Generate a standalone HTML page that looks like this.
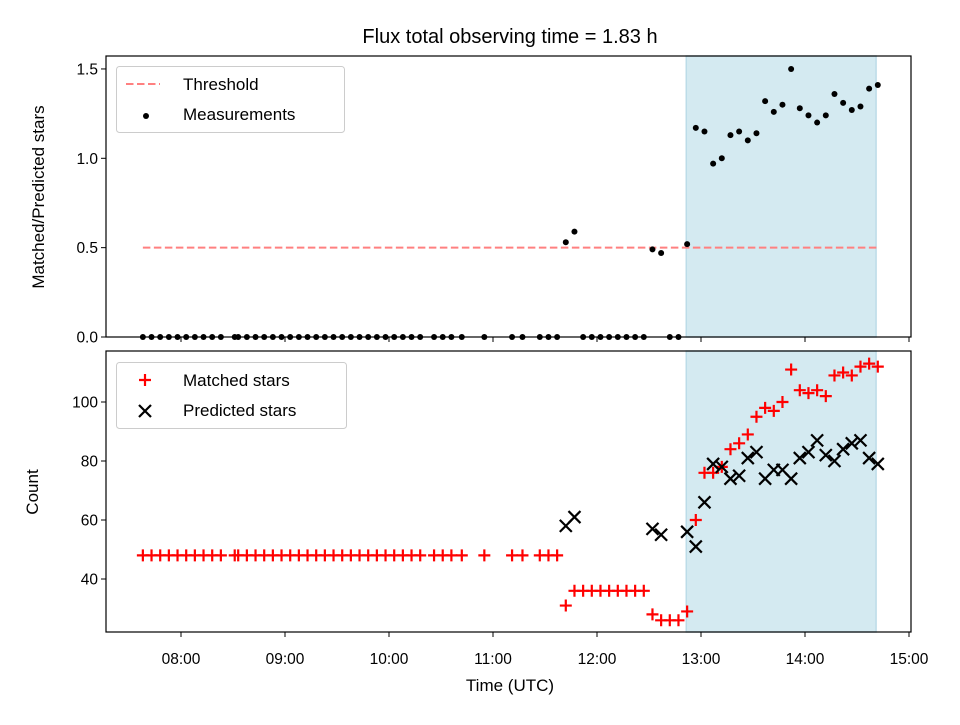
<!DOCTYPE html>
<html><head><meta charset="utf-8"><style>
body{margin:0;background:#fff;}
svg text{font-family:"Liberation Sans","DejaVu Sans",sans-serif;fill:#000;}
</style></head><body>
<svg id="chart" width="960" height="720" xmlns="http://www.w3.org/2000/svg">
<text x="510" y="43" font-size="20" text-anchor="middle">Flux total observing time = 1.83 h</text>
<g id="topPanel"></g>
<g id="botPanel"></g>
<text x="510" y="691" font-size="17" text-anchor="middle">Time (UTC)</text>
<text transform="translate(44,197) rotate(-90)" font-size="17" text-anchor="middle">Matched/Predicted stars</text>
<text transform="translate(38,492) rotate(-90)" font-size="17" text-anchor="middle">Count</text>
</svg>
<script>
// times in minutes after 07:00 UTC
const times = [
38,43,48,53,58,63,68,73,78,83,
91,93,98,103,108,113,118,123,128,133,
138,143,148,153,158,163,168,173,178,183,
188,193,198,206,211,216,222,235,251,257,
267,272,277,282,287,292,297,302,307,312,
317,322,327,332,337,342,347,352,357,362,
367,372,377,382,387,392,397,402,407,412,
417,422,427,432,437,442,447,452,457,462];
const ratio = [
0,0,0,0,0,0,0,0,0,0,
0,0,0,0,0,0,0,0,0,0,
0,0,0,0,0,0,0,0,0,0,
0,0,0,0,0,0,0,0,0,0,
0,0,0,0.53,0.59,0,0,0,0,0,
0,0,0,0.49,0.47,0,0,0.52,1.17,1.15,
0.97,1.0,1.13,1.15,1.1,1.14,1.32,1.26,1.3,1.5,
1.28,1.24,1.2,1.24,1.36,1.31,1.27,1.29,1.39,1.41];
const matched = [
48,48,48,48,48,48,48,48,48,48,
48,48,48,48,48,48,48,48,48,48,
48,48,48,48,48,48,48,48,48,48,
48,48,48,48,48,48,48,48,48,48,
48,48,48,31,36,36,36,36,36,36,
36,36,36,28,26,26,26,29,60,76,
76,78,84,86,89,95,98,97,100,111,
104,103,104,102,109,110,109,112,113,112];
const predicted = [
null,null,null,null,null,null,null,null,null,null,
null,null,null,null,null,null,null,null,null,null,
null,null,null,null,null,null,null,null,null,null,
null,null,null,null,null,null,null,null,null,null,
null,null,null,58,61,null,null,null,null,null,
null,null,null,57,55,null,null,56,51,66,
79,78,74,75,81,83,74,77,77,74,
81,83,87,82,80,84,86,87,81,79];
const threshold = 0.5;
const shadeStart = 351.5, shadeEnd = 461;
const xTickLabels = ["08:00","09:00","10:00","11:00","12:00","13:00","14:00","15:00"];
const xTickVals = [60,120,180,240,300,360,420,480];
const topTicks = [0,0.5,1.0,1.5];
const topTickLabels = ["0.0","0.5","1.0","1.5"];
const botTicks = [40,60,80,100];
const botTickLabels = ["40","60","80","100"];

const NS="http://www.w3.org/2000/svg";
const L=106,R=911;
const xs=t=>181+(t-60)*104/60;
const yTop=v=>337-v*178.7;
const yBot=c=>579-(c-40)*2.95;
function mk(tag,attrs,parent){const e=document.createElementNS(NS,tag);for(const k in attrs)e.setAttribute(k,attrs[k]);parent.appendChild(e);return e;}
const topG=document.getElementById('topPanel'), botG=document.getElementById('botPanel');

function panel(g,y0,y1,ticks,labels,yf,showLabels,nm){
  const sh=mk('rect',{x:xs(shadeStart),y:y0,width:xs(shadeEnd)-xs(shadeStart),height:y1-y0,fill:'#d4eaf1',stroke:'#bcdce8','stroke-width':1.5},g);
  
  
  xTickVals.forEach((v,i)=>{
    const t=mk('line',{x1:xs(v),x2:xs(v),y1:y1,y2:y1+5,stroke:'#000','stroke-width':1},g);
    
    
    if(showLabels){const tx=mk('text',{x:xs(v),y:y1+32,'font-size':15.5,'text-anchor':'middle'},g);tx.textContent=xTickLabels[i];
      
      }
  });
  ticks.forEach((v,i)=>{
    const t=mk('line',{x1:L-5,x2:L,y1:yf(v),y2:yf(v),stroke:'#000','stroke-width':1},g);
    
    
    const tx=mk('text',{x:L-8,y:yf(v)+5.5,'font-size':15.5,'text-anchor':'end'},g);tx.textContent=labels[i];
    
    
  });
}
panel(topG,56,337,topTicks,topTickLabels,yTop,false,'top');
panel(botG,351,632,botTicks,botTickLabels,yBot,true,'bottom');

const th=mk('line',{x1:xs(times[0]),x2:xs(times[times.length-1]),y1:yTop(threshold),y2:yTop(threshold),stroke:'#ff8080','stroke-width':2,'stroke-dasharray':'7.5,3.5'},topG);


times.forEach((t,i)=>{
  const c=mk('circle',{cx:xs(t),cy:yTop(ratio[i]),r:3,fill:'#000'},topG);
  
  
});
function plus(g,x,y){return mk('path',{d:`M${x-6},${y}H${x+6}M${x},${y-6}V${y+6}`,stroke:'#f00','stroke-width':2.2},g);}
function cross(g,x,y){return mk('path',{d:`M${x-6},${y-6}L${x+6},${y+6}M${x-6},${y+6}L${x+6},${y-6}`,stroke:'#000','stroke-width':2.2},g);}
times.forEach((t,i)=>{
  const p=plus(botG,xs(t),yBot(matched[i]));
  
  
});
times.forEach((t,i)=>{
  if(predicted[i]===null||predicted[i]===undefined)return;
  const p=cross(botG,xs(t),yBot(predicted[i]));
  
  
});
const f1=mk('rect',{x:L,y:56,width:R-L,height:281,fill:'none',stroke:'#000','stroke-width':1.2},topG);


const f2=mk('rect',{x:L,y:351,width:R-L,height:281,fill:'none',stroke:'#000','stroke-width':1.2},botG);



const lg1=mk('g',{},topG);


mk('rect',{x:116.5,y:66.5,width:228,height:66,rx:3,fill:'#fff','fill-opacity':0.8,stroke:'#ccc'},lg1);
mk('line',{x1:126,x2:160,y1:84,y2:84,stroke:'#ff8080','stroke-width':2,'stroke-dasharray':'7.5,3.5'},lg1);
const t1=mk('text',{x:183,y:90,'font-size':17},lg1);t1.textContent='Threshold';
mk('circle',{cx:146,cy:116,r:3,fill:'#000'},lg1);
const t2=mk('text',{x:183,y:120,'font-size':17},lg1);t2.textContent='Measurements';
const lg2=mk('g',{},botG);


mk('rect',{x:116.5,y:362.5,width:230,height:66,rx:3,fill:'#fff','fill-opacity':0.8,stroke:'#ccc'},lg2);
plus(lg2,145,380);
const t3=mk('text',{x:183,y:386,'font-size':17},lg2);t3.textContent='Matched stars';
cross(lg2,145,411);
const t4=mk('text',{x:183,y:416,'font-size':17},lg2);t4.textContent='Predicted stars';
</script>
</body></html>
